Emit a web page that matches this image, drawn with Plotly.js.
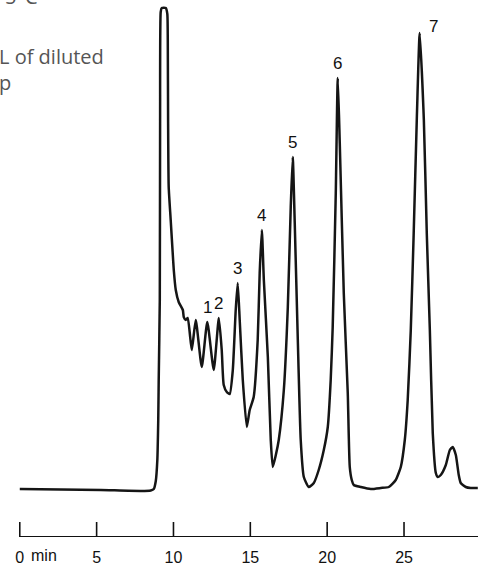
<!DOCTYPE html>
<html>
<head>
<meta charset="utf-8">
<script src="https://cdn.plot.ly/plotly-3.0.1.min.js"></script>
<style>html,body{margin:0;padding:0;background:#fff;}#chart{width:481px;height:566px;}</style>
</head>
<body>
<div id="chart"></div>
<script>
// Retention time (min)
const time = [0, 2.67, 5.27, 7.87, 8.52, 8.72, 8.85, 8.95, 9.01, 9.04, 9.11, 9.13, 9.17, 9.24, 9.50, 9.60, 9.63, 9.65, 9.69, 9.82, 9.95, 10.02, 10.15, 10.34, 10.61, 10.67, 10.80, 10.93, 11.19, 11.45, 11.84, 12.20, 12.62, 12.95, 13.14, 13.27, 13.47, 13.66, 13.86, 14.05, 14.18, 14.31, 14.51, 14.77, 14.96, 15.22, 15.48, 15.61, 15.75, 15.88, 16.14, 16.33, 16.46, 16.66, 16.85, 17.18, 17.44, 17.63, 17.76, 17.89, 18.09, 18.28, 18.48, 18.80, 19.13, 19.45, 19.78, 20.04, 20.23, 20.36, 20.56, 20.69, 20.82, 21.08, 21.34, 21.47, 21.60, 21.73, 22.19, 22.84, 23.49, 24.01, 24.46, 24.79, 25.05, 25.24, 25.44, 25.63, 25.83, 26.02, 26.29, 26.48, 26.68, 26.87, 27.07, 27.20, 27.39, 27.72, 27.98, 28.17, 28.37, 28.56, 28.69, 29.02, 29.34, 29.80];
// Detector signal (arbitrary units)
const signal = [1, 0.5, 0, -1, -0.5, 1, 9, 30, 70, 110, 190, 370, 478, 482, 482, 476, 450, 370, 303, 270, 237, 220, 200, 188, 180, 173, 170, 172, 140, 170, 123, 168, 120, 172, 140, 105, 98, 96, 120, 180, 207, 170, 110, 63, 80, 93, 150, 217, 260, 210, 133, 50, 23, 35, 50, 100, 183, 283, 333, 267, 150, 50, 13, 3, 7, 20, 40, 63, 110, 163, 297, 412, 347, 197, 97, 23, 10, 5, 3, 1, 2, 3, 10, 23, 50, 90, 160, 257, 370, 457, 370, 257, 160, 57, 17, 13, 15, 25, 40, 43, 35, 15, 7, 3, 2, 2];

const tickVals = [0, 5, 10, 15, 20, 25];
const tickLabels = ['0', '5', '10', '15', '20', '25'];
const axisUnit = 'min';

const peakNames = ['1', '2', '3', '4', '5', '6', '7'];
const peakTimes = [12.20, 12.95, 14.18, 15.75, 17.76, 20.69, 26.02];

const captionLines = ['L of diluted', 'p'];
const captionTop = '5°C';

// ---- layout geometry ----
const W = 481, H = 566;
const M = {l: 19, r: 3, t: 0, b: 30};
const plotW = W - M.l - M.r, plotH = H - M.t - M.b;
const pxPerMin = 15.37;
const xMax = plotW / pxPerMin;
const yLow = -46, yHigh = yLow + plotH;
const px2paperX = px => (px - M.l) / plotW;
const px2paperY = py => (H - M.b - py) / plotH;
const tickLenPx = 14;

function heightAt(t) {
  let best = 0;
  for (let i = 0; i < time.length; i++) {
    if (Math.abs(time[i] - t) < Math.abs(time[best] - t)) best = i;
  }
  return signal[best];
}

const labelFont = {family: 'Liberation Sans, Arial, sans-serif', size: 17, color: '#111'};
const labelShift = {'7': {x: 14, y: 7}};
const annotations = peakNames.map((name, i) => {
  const s = labelShift[name] || {x: 0, y: 15};
  return {
    x: peakTimes[i], y: heightAt(peakTimes[i]), xref: 'x', yref: 'y',
    text: name, showarrow: false, xanchor: 'center', yanchor: 'middle',
    xshift: s.x, yshift: s.y, font: labelFont
  };
});
annotations.push({
  x: px2paperX(29), y: px2paperY(555), xref: 'paper', yref: 'paper',
  text: axisUnit, showarrow: false, xanchor: 'left', yanchor: 'middle',
  font: {family: 'Liberation Sans, Arial, sans-serif', size: 16, color: '#111'}
});
annotations.push({
  x: px2paperX(0), y: px2paperY(69.5), xref: 'paper', yref: 'paper',
  text: captionLines.join('<br>'), showarrow: false, xanchor: 'left', yanchor: 'middle',
  align: 'left', xshift: -3,
  font: {family: 'Open Sans, sans-serif', size: 20, color: '#555'}
});
annotations.push({
  x: px2paperX(6), y: px2paperY(-3), xref: 'paper', yref: 'paper',
  text: captionTop, showarrow: false, xanchor: 'left', yanchor: 'middle',
  xshift: -3,
  font: {family: 'Open Sans, sans-serif', size: 20, color: '#555'}
});

// tick marks pointing up from the axis line, placed through the x scale
const shapes = tickVals.map(v => ({
  type: 'line', xref: 'x', yref: 'paper',
  x0: v, x1: v, y0: 0, y1: tickLenPx / plotH,
  line: {color: '#111', width: 1.6}, layer: 'above'
}));

const trace = {
  x: time, y: signal, type: 'scatter', mode: 'lines',
  line: {color: '#151515', width: 2.5, shape: 'spline', smoothing: 0.5},
  hoverinfo: 'skip'
};

const layout = {
  width: W, height: H,
  margin: M,
  paper_bgcolor: '#fff', plot_bgcolor: '#fff',
  showlegend: false,
  xaxis: {
    range: [-0.05, xMax - 0.05], showgrid: false, zeroline: false,
    showline: true, linecolor: '#111', linewidth: 1.4,
    ticks: '', 
    tickmode: 'array', tickvals: tickVals, ticktext: tickLabels,
    ticklabelstandoff: 6,
    tickfont: {family: 'Liberation Sans, Arial, sans-serif', size: 16, color: '#111'}
  },
  yaxis: {
    range: [yLow, yHigh], visible: false, showgrid: false, zeroline: false
  },
  shapes: shapes,
  annotations: annotations
};

Plotly.newPlot('chart', [trace], layout, {staticPlot: true, displayModeBar: false});
</script>
</body>
</html>
